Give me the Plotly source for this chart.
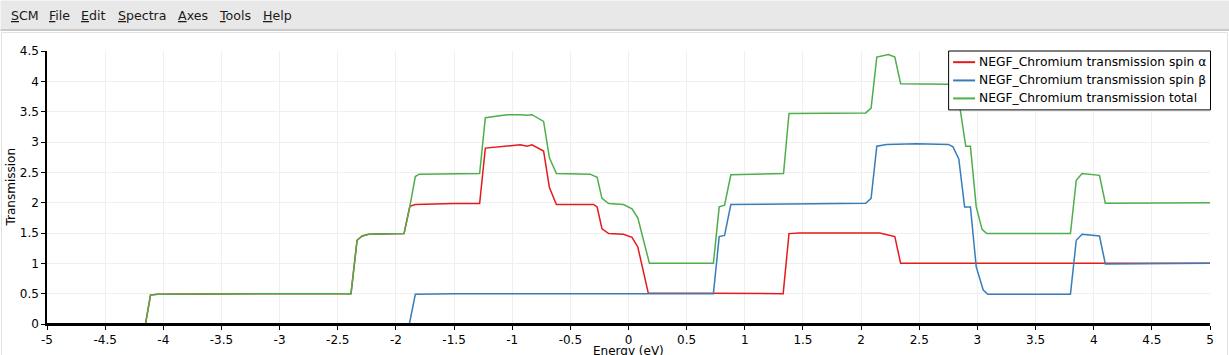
import plotly.graph_objects as go

# ---- data ----
alpha_energy = [-5.0, -4.153, -4.11, -4.05, -3.0, -2.386, -2.334, -2.29, -2.234, -1.93, -1.88, -1.833,
                -1.5, -1.28, -1.231, -1.13, -1.045, -0.93, -0.873, -0.83, -0.73, -0.68, -0.62,
                -0.30, -0.27, -0.228, -0.17, -0.043, 0.03, 0.08, 0.17, 0.73, 1.33, 1.38, 1.47,
                2.16, 2.24, 2.29, 2.34, 5.0]
alpha_trans = [0.0, 0.0, 0.477, 0.49, 0.5, 0.5, 1.38, 1.45, 1.48, 1.49, 1.94, 1.97,
               1.985, 1.985, 2.90, 2.92, 2.94, 2.955, 2.93, 2.955, 2.85, 2.25, 1.97,
               1.97, 1.93, 1.57, 1.49, 1.48, 1.43, 1.27, 0.51, 0.5, 0.5, 1.49, 1.50,
               1.50, 1.47, 1.44, 1.0, 1.0]

beta_energy = [-5.0, -1.884, -1.833, -1.5, 0.73, 0.78, 0.826, 0.88, 2.04, 2.086, 2.135, 2.22,
               2.48, 2.75, 2.79, 2.84, 2.89, 2.94, 2.99, 3.05, 3.09, 3.80, 3.85, 3.90,
               4.05, 4.10, 5.0]
beta_trans = [0.0, 0.0, 0.49, 0.5, 0.5, 1.44, 1.46, 1.97, 1.99, 2.07, 2.93, 2.96,
              2.97, 2.96, 2.92, 2.72, 1.93, 1.93, 0.94, 0.56, 0.49, 0.49, 1.38, 1.48,
              1.45, 0.99, 1.0]

total_energy = [-5.0, -4.153, -4.11, -4.05, -3.0, -2.386, -2.334, -2.29, -2.234, -1.93, -1.88,
                -1.833, -1.80, -1.28, -1.231, -1.13, -1.045, -0.93, -0.873, -0.83, -0.73, -0.68,
                -0.62, -0.33, -0.27, -0.228, -0.17, -0.043, 0.03, 0.08, 0.18, 0.73, 0.78, 0.826,
                0.88, 1.333, 1.38, 2.04, 2.086, 2.135, 2.235, 2.29, 2.34, 2.75, 2.82, 2.90,
                2.94, 2.99, 3.04, 3.08, 3.80, 3.85, 3.90, 4.05, 4.10, 5.0]
total_trans = [0.0, 0.0, 0.477, 0.49, 0.5, 0.5, 1.38, 1.45, 1.48, 1.49, 1.94,
               2.43, 2.47, 2.48, 3.40, 3.43, 3.45, 3.45, 3.44, 3.45, 3.34, 2.74,
               2.48, 2.47, 2.42, 2.07, 1.985, 1.97, 1.90, 1.75, 1.0, 1.0, 1.93, 1.96,
               2.46, 2.48, 3.47, 3.48, 3.56, 4.40, 4.44, 4.40, 3.96, 3.95, 3.94, 2.93,
               2.93, 1.93, 1.56, 1.49, 1.49, 2.37, 2.48, 2.45, 1.99, 2.0]

series_names = ["NEGF_Chromium transmission spin α",
                "NEGF_Chromium transmission spin β",
                "NEGF_Chromium transmission total"]
series_colors = ["#e41a1c", "#377eb8", "#4daf4a"]

x_ticks = [-5, -4.5, -4, -3.5, -3, -2.5, -2, -1.5, -1, -0.5, 0, 0.5, 1, 1.5, 2, 2.5, 3, 3.5, 4, 4.5, 5]
y_ticks = [0, 0.5, 1, 1.5, 2, 2.5, 3, 3.5, 4, 4.5]

x_title = "Energy (eV)"
y_title = "Transmission"

menu_items = ["SCM", "File", "Edit", "Spectra", "Axes", "Tools", "Help"]
menu_px = [8, 47, 79, 116, 176, 217, 261]

# ---- figure ----
W, H = 1229, 355
ML, MR, MT, MB = 46.5, 19, 50.5, 31
PW, PH = W - ML - MR, H - MT - MB

def px_to_paper_x(px):
    return (px - ML) / PW

def py_to_paper_y(py):
    return (H - MB - py) / PH

fig = go.Figure()
for xs, ys, name, col in zip([alpha_energy, beta_energy, total_energy],
                             [alpha_trans, beta_trans, total_trans],
                             series_names, series_colors):
    fig.add_trace(go.Scatter(x=xs, y=ys, mode="lines", name=name, showlegend=False,
                             line=dict(color=col, width=1.5)))

font_family = "DejaVu Sans"
fig.update_layout(
    width=W, height=H,
    margin=dict(l=ML, r=MR, t=MT, b=MB, pad=0, autoexpand=False),
    paper_bgcolor="white", plot_bgcolor="white",
    font=dict(family=font_family, size=12, color="#000000"),
    showlegend=False,
    xaxis=dict(range=[-5, 5], tickvals=x_ticks, ticktext=[f"{v:g}" for v in x_ticks],
               showgrid=True, gridcolor="#efefef", gridwidth=1,
               showline=True, linecolor="#000000", linewidth=1.5,
               ticks="outside", ticklen=4, tickcolor="#000000", tickwidth=1,
               zeroline=False, tickfont=dict(size=12), automargin=False),
    yaxis=dict(range=[0, 4.5], tickvals=y_ticks, ticktext=[f"{v:g}" for v in y_ticks],
               showgrid=True, gridcolor="#efefef", gridwidth=1,
               showline=True, linecolor="#000000", linewidth=1.5,
               ticks="outside", ticklen=4, tickcolor="#000000", tickwidth=1,
               zeroline=False, tickfont=dict(size=12), automargin=False),
)

# axis titles placed as in the reference (x title sits at the very bottom edge)
fig.add_annotation(xref="paper", yref="paper", x=0.5, y=py_to_paper_y(351.5),
                   xanchor="center", yanchor="middle", showarrow=False, text=x_title,
                   borderpad=0, font=dict(family=font_family, size=12, color="#000000"))
fig.add_annotation(xref="paper", yref="paper", x=px_to_paper_x(9.5), y=0.5,
                   xanchor="center", yanchor="middle", showarrow=False, text=y_title,
                   textangle=-90, borderpad=0,
                   font=dict(family=font_family, size=12, color="#000000"))

# baseline drawn over the traces (the reference hides zero-valued lines under the axis)
fig.add_shape(type="line", xref="paper", yref="y", x0=0, x1=1, y0=0, y1=0,
              line=dict(color="#000000", width=2), layer="above")

# ---- legend box (Qt-style, compact) ----
LEG_X0, LEG_X1, LEG_Y0, LEG_Y1 = 948.5, 1210.5, 50.5, 109.5
LEG_ROWS = [61.7, 80.0, 98.0]
fig.add_shape(type="rect", xref="paper", yref="paper",
              x0=px_to_paper_x(LEG_X0), x1=px_to_paper_x(LEG_X1),
              y0=py_to_paper_y(LEG_Y1), y1=py_to_paper_y(LEG_Y0),
              fillcolor="white", line=dict(color="#000000", width=1), layer="above")
for name, col, ry in zip(series_names, series_colors, LEG_ROWS):
    fig.add_shape(type="line", xref="paper", yref="paper",
                  x0=px_to_paper_x(953), x1=px_to_paper_x(975),
                  y0=py_to_paper_y(ry), y1=py_to_paper_y(ry),
                  line=dict(color=col, width=2), layer="above")
    fig.add_annotation(xref="paper", yref="paper",
                       x=px_to_paper_x(977.5), y=py_to_paper_y(ry),
                       xanchor="left", yanchor="middle", showarrow=False,
                       text=name, borderpad=0,
                       font=dict(family=font_family, size=12.3, color="#000000"))

# menu bar background and border
fig.add_shape(type="rect", xref="paper", yref="paper",
              x0=px_to_paper_x(0), x1=px_to_paper_x(W),
              y0=py_to_paper_y(29), y1=py_to_paper_y(0),
              fillcolor="#e8e8e8", line=dict(width=0), layer="below")
fig.add_shape(type="line", xref="paper", yref="paper",
              x0=px_to_paper_x(0), x1=px_to_paper_x(W),
              y0=py_to_paper_y(29.5), y1=py_to_paper_y(29.5),
              line=dict(color="#9a9a9a", width=1))
# light frame around content area
fig.add_shape(type="rect", xref="paper", yref="paper",
              x0=px_to_paper_x(1), x1=px_to_paper_x(W - 1.5),
              y0=py_to_paper_y(H + 2), y1=py_to_paper_y(32),
              line=dict(color="#e2e2e2", width=1), fillcolor="rgba(0,0,0,0)", layer="below")

for label, px in zip(menu_items, menu_px):
    fig.add_annotation(xref="paper", yref="paper",
                       x=px_to_paper_x(px), y=py_to_paper_y(15),
                       xanchor="left", yanchor="middle", showarrow=False,
                       text=f"<u>{label[0]}</u>{label[1:]}",
                       font=dict(family=font_family, size=12.6, color="#1a1a1a"))

fig.write_html("out.html")
